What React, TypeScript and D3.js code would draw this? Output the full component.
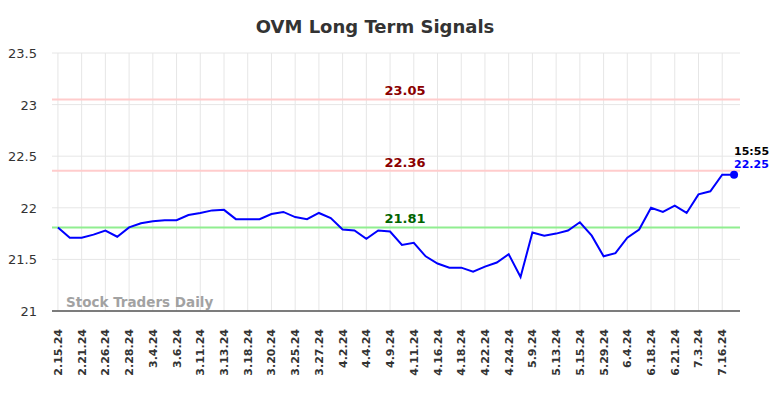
import React from "react";
import * as d3 from "d3";

const dates: string[] = [
  "2.15.24", "2.20.24", "2.21.24", "2.23.24", "2.26.24", "2.27.24", "2.28.24", "3.1.24",
  "3.4.24", "3.5.24", "3.6.24", "3.8.24", "3.11.24", "3.12.24", "3.13.24", "3.15.24",
  "3.18.24", "3.19.24", "3.20.24", "3.22.24", "3.25.24", "3.26.24", "3.27.24", "4.1.24",
  "4.2.24", "4.3.24", "4.4.24", "4.8.24", "4.9.24", "4.10.24", "4.11.24", "4.15.24",
  "4.16.24", "4.17.24", "4.18.24", "4.19.24", "4.22.24", "4.23.24", "4.24.24", "5.1.24",
  "5.9.24", "5.10.24", "5.13.24", "5.14.24", "5.15.24", "5.22.24", "5.29.24", "6.3.24",
  "6.4.24", "6.11.24", "6.18.24", "6.20.24", "6.21.24", "6.27.24", "7.3.24", "7.10.24",
  "7.16.24", "7.17.24",
];

const prices: number[] = [
  21.81, 21.71, 21.71, 21.74, 21.78, 21.72, 21.81, 21.85,
  21.87, 21.88, 21.88, 21.93, 21.95, 21.975, 21.98, 21.89,
  21.89, 21.89, 21.94, 21.96, 21.91, 21.89, 21.95, 21.90,
  21.79, 21.78, 21.70, 21.78, 21.77, 21.64, 21.66, 21.53,
  21.46, 21.42, 21.42, 21.38, 21.43, 21.47, 21.55, 21.33,
  21.76, 21.73, 21.75, 21.78, 21.86, 21.73, 21.53, 21.56,
  21.71, 21.79, 22.00, 21.96, 22.02, 21.95, 22.13, 22.16,
  22.32, 22.32,
];

const yTicks: number[] = [21, 21.5, 22, 22.5, 23, 23.5];
const yTickLabels: string[] = ["21", "21.5", "22", "22.5", "23", "23.5"];

const resistanceLevels: number[] = [23.05, 22.36];
const supportLevels: number[] = [21.81];
const levelLabels: string[] = ["23.05", "22.36", "21.81"];

const lastTime = "15:55";
const lastPriceLabel = "22.25";
const title = "OVM Long Term Signals";
const watermark = "Stock Traders Daily";

const W = 784;
const H = 398;
const M = { left: 52, right: 44, top: 53, bottom: 87 };

export default function App() {
  const x = d3
    .scalePoint<string>()
    .domain(dates)
    .range([M.left, W - M.right])
    .padding(0.5);
  const y = d3
    .scaleLinear()
    .domain([21, 23.5])
    .range([H - M.bottom, M.top]);

  const line = d3
    .line<number>()
    .x((_, i) => x(dates[i]) as number)
    .y((d) => y(d));

  const tickDates = dates.filter((_, i) => i % 2 === 0);
  const font = "'DejaVu Sans', sans-serif";
  const levelX = 405;
  const lastIdx = prices.length - 1;
  const lx = x(dates[lastIdx]) as number;
  const ly = y(prices[lastIdx]);

  const levels = [
    ...resistanceLevels.map((v) => ({ v, stroke: "#ffcccc", text: "#8b0000" })),
    ...supportLevels.map((v) => ({ v, stroke: "#90ee90", text: "#006400" })),
  ];

  return (
    <svg width={W} height={H} style={{ position: "absolute", left: 0, top: 0, background: "#fff" }} fontFamily={font}>
      <text x={375} y={33} textAnchor="middle" fontSize={18} fontWeight="bold" fill="#333">
        {title}
      </text>
      {/* horizontal grid */}
      {yTicks.map((t, i) => (
        <g key={"y" + t}>
          <line x1={M.left} x2={W - M.right} y1={y(t)} y2={y(t)} stroke="#e6e6e6" strokeWidth={1} />
          <text x={37} y={y(t) + 5} textAnchor="end" fontSize={13} fill="#333">
            {yTickLabels[i]}
          </text>
        </g>
      ))}
      {/* vertical grid and x labels */}
      {tickDates.map((d) => {
        const xx = x(d) as number;
        return (
          <g key={"x" + d}>
            <line x1={xx} x2={xx} y1={M.top} y2={H - M.bottom} stroke="#e6e6e6" strokeWidth={1} />
            <text
              transform={`translate(${xx + 4},${H - M.bottom + 18}) rotate(-90)`}
              textAnchor="end"
              fontSize={11}
              fontWeight="bold"
              fill="#333"
            >
              {d}
            </text>
          </g>
        );
      })}
      {/* levels */}
      {levels.map((l, i) => (
        <g key={"l" + i}>
          <line x1={M.left} x2={W - M.right} y1={y(l.v)} y2={y(l.v)} stroke={l.stroke} strokeWidth={2} />
          <text x={levelX} y={y(l.v) - 4} textAnchor="middle" fontSize={13} fontWeight="bold" fill={l.text}>
            {levelLabels[i]}
          </text>
        </g>
      ))}
      <line x1={M.left} x2={W - M.right} y1={H - M.bottom} y2={H - M.bottom} stroke="#555" strokeWidth={1.5} />
      <text x={66} y={307} fontSize={13.5} fontWeight="bold" fill="#999" opacity={0.9}>
        {watermark}
      </text>
      <path d={line(prices) || ""} fill="none" stroke="#0000ff" strokeWidth={2} />
      <circle cx={lx} cy={ly} r={4} fill="#0000ff" />
      <text x={lx} y={ly - 20} fontSize={11} fontWeight="bold" fill="#000">
        {lastTime}
      </text>
      <text x={lx} y={ly - 7} fontSize={11} fontWeight="bold" fill="#0000ff">
        {lastPriceLabel}
      </text>
    </svg>
  );
}
